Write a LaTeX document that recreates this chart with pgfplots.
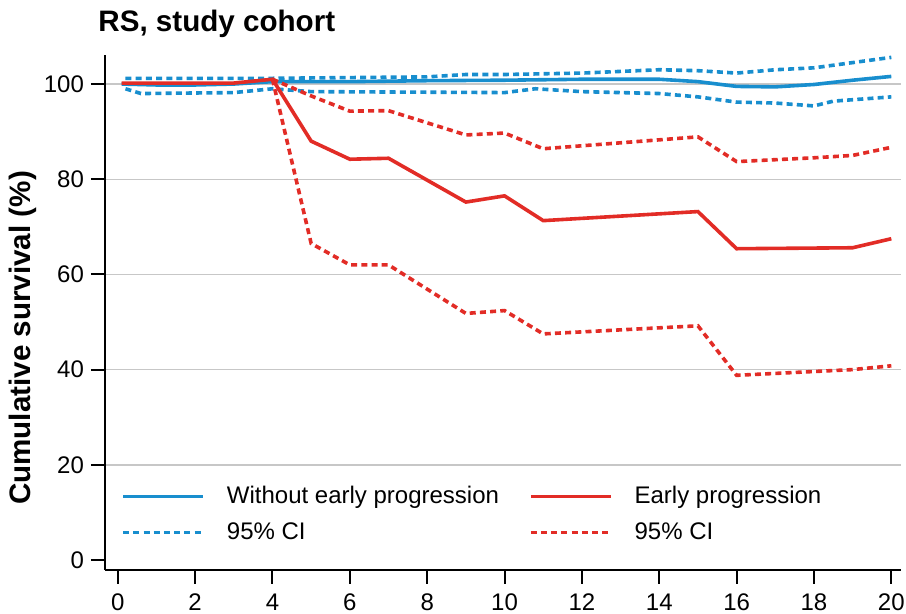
\documentclass[border=0pt]{standalone}
\usepackage{pgfplots}
\pgfplotsset{compat=1.18}
\usepackage{fontspec}
\setmainfont{Liberation Sans}
\definecolor{cblue}{RGB}{24,142,206}
\definecolor{cred}{RGB}{226,44,38}
\begin{document}
\begin{tikzpicture}
\path[use as bounding box] (0,0) rectangle (453pt,307pt);
\begin{axis}[
 at={(52.5pt,22pt)}, anchor=south west,
 scale only axis, width=398pt, height=257.5pt,
 xmin=-0.33, xmax=20.25, ymin=-2.1, ymax=106.1,
 axis x line*=bottom, axis y line*=left,
 axis line style={line width=1pt, -},
 xtick={0,2,...,20}, ytick={20,40,...,100},
 extra y ticks={0}, extra y tick style={grid=none},
 tick style={line width=1pt, black}, major tick length=7pt, tick align=outside,
 ymajorgrids, grid style={black!22, line width=0.7pt},
 tick label style={font=\fontsize{12}{14}\selectfont},
 xticklabel style={yshift=-1.5pt},
 /pgf/number format/assume math mode=true,
 legend columns=2,
 legend cell align=left,
 legend image code/.code={\draw[#1] (0pt,0pt) -- (40pt,0pt);},
 legend style={draw=none, fill=none, font=\fontsize{12}{14}\selectfont,
   at={(axis description cs:0.02,0.045)}, anchor=south west,
   inner sep=0pt, row sep=4pt,
   /tikz/every odd column/.append style={column sep=9pt},
   /tikz/every even column/.append style={column sep=13pt}},
]
\addlegendimage{cblue, line width=1.8pt}
\addlegendentry{Without early progression}
\addlegendimage{cred, line width=1.8pt}
\addlegendentry{Early progression}
\addlegendimage{cblue, line width=1.8pt, dash pattern=on 3pt off 2.1pt}
\addlegendentry{95\% CI}
\addlegendimage{cred, line width=1.8pt, dash pattern=on 3pt off 2.1pt}
\addlegendentry{95\% CI}

% blue upper CI
\addplot[forget plot, cblue, line width=1.8pt, dash pattern=on 3pt off 2.1pt] coordinates {
(0.2,101.2) (4,101.2) (8,101.5) (9,102) (10,102) (12,102.3) (14,103) (15,102.8) (16,102.3) (17,103) (18,103.4) (19,104.5) (20,105.6)};
% blue lower CI
\addplot[forget plot, cblue, line width=1.8pt, dash pattern=on 3pt off 2.1pt] coordinates {
(0.2,99) (0.6,98) (3,98.2) (4,99) (5,98.4) (10,98.2) (10.8,99) (12,98.4) (14,98) (15,97.3) (16,96.2) (17,96) (18,95.4) (18.5,96.4) (20,97.3)};
% blue solid
\addplot[forget plot, cblue, line width=1.8pt] coordinates {
(0.1,100) (1,99.8) (2,99.8) (3,100) (4,100.5) (6,100.5) (8,100.7) (10,100.8) (12,101) (14,101) (15,100.5) (16,99.5) (17,99.4) (18,99.9) (19,100.8) (20,101.6)};
% red upper CI
\addplot[forget plot, cred, line width=1.8pt, dash pattern=on 3pt off 2.1pt] coordinates {
(4,101) (5,97.5) (6,94.3) (7,94.4) (9,89.3) (10,89.7) (11,86.4) (15,88.9) (16,83.7) (18,84.5) (19,85) (20,86.7)};
% red lower CI
\addplot[forget plot, cred, line width=1.8pt, dash pattern=on 3pt off 2.1pt] coordinates {
(4,101) (5,66.5) (6,62) (7,62) (9,51.8) (10,52.4) (11,47.5) (15,49.2) (16,38.8) (18,39.6) (19,40) (20,40.8)};
% red solid
\addplot[forget plot, cred, line width=1.8pt] coordinates {
(0.1,100.2) (3,100.2) (4,101) (5,88) (6,84.2) (7,84.4) (9,75.2) (10,76.5) (11,71.3) (15,73.2) (16,65.4) (19,65.6) (20,67.5)};
\end{axis}
\node[anchor=base west, inner sep=0pt, font=\bfseries\fontsize{14.8}{17}\selectfont] at (49pt,291pt) {RS, study cohort};
\node[rotate=90, inner sep=0pt, font=\bfseries\fontsize{14.8}{17}\selectfont] at (11.5pt,138pt) {Cumulative survival (\%)};
\end{tikzpicture}
\end{document}
